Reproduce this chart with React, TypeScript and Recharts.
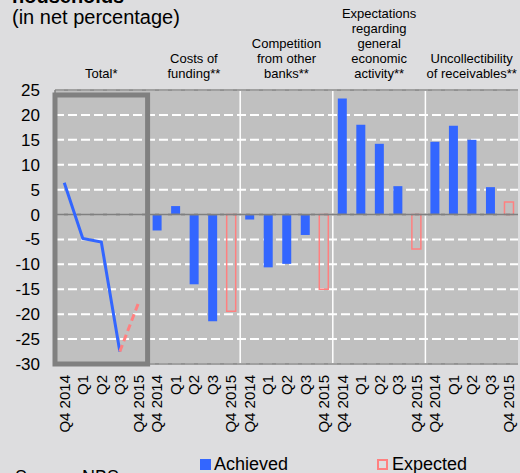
import {
  Bar,
  CartesianGrid,
  ComposedChart,
  Line,
  ReferenceArea,
  ReferenceLine,
  XAxis,
  YAxis,
} from "recharts";

const FONT = "Arial, 'Liberation Sans', Helvetica, sans-serif";
const BLUE = "#3366ff";
const PINK = "#ff8080";

const quarters = ["Q4 2014", "Q1", "Q2", "Q3", "Q4 2015"];

const groupHeaders = [
  ["Total*"],
  ["Costs of", "funding**"],
  ["Competition", "from other", "banks**"],
  ["Expectations", "regarding", "general", "economic", "activity**"],
  ["Uncollectibility", "of receivables**"],
];

// Total* is drawn as a line
const totalAchieved = [6.4, -4.8, -5.5, -27.5, null];
const totalExpected = [null, null, null, -27.5, -17.8];

// factor groups: Q4 2014 .. Q3 achieved, Q4 2015 expected
const costsAchieved = [-3.2, 1.7, -14.0, -21.4];
const competitionAchieved = [-1.0, -10.6, -9.9, -4.1];
const expectationsAchieved = [23.3, 18.0, 14.2, 5.7];
const uncollectibilityAchieved = [14.6, 17.8, 15.0, 5.5];
const factorsExpected = [-19.4, -15.0, -6.9, 2.5];

const yTicks = [25, 20, 15, 10, 5, 0, -5, -10, -15, -20, -25, -30];

const factorAchieved = [costsAchieved, competitionAchieved, expectationsAchieved, uncollectibilityAchieved];

const data = groupHeaders.flatMap((_, g) =>
  quarters.map((q, i) => ({
    id: `${g}-${i}`,
    label: q,
    totalAch: g === 0 ? totalAchieved[i] : null,
    totalExp: g === 0 ? totalExpected[i] : null,
    achieved: g > 0 && i < 4 ? factorAchieved[g - 1][i] : null,
    expected: g > 0 && i === 4 ? factorsExpected[g - 1] : null,
  }))
);

const headerTicks = groupHeaders.map((_, g) => `${g}-2`);
const groupEnds = [1, 2, 3].map((g) => `${g}-4`);

function QuarterTick({ x, y, payload }: any) {
  const label = String(payload.value).split("-")[1];
  return (
    <text
      x={x}
      y={y}
      transform={`rotate(-90, ${x}, ${y})`}
      textAnchor="end"
      dominantBaseline="central"
      fontSize={15}
      fontFamily={FONT}
      fill="#000"
    >
      {quarters[Number(label)]}
    </text>
  );
}

function HeaderTick({ x, y, payload }: any) {
  const g = Number(String(payload.value).split("-")[0]);
  const lines = groupHeaders[g];
  return (
    <g>
      {lines.map((line, i) => (
        <text
          key={line}
          x={x}
          y={y - 12 - 15 * (lines.length - 1 - i)}
          textAnchor="middle"
          fontSize={13}
          fontFamily={FONT}
          fill="#000"
        >
          {line}
        </text>
      ))}
    </g>
  );
}

export default function App() {
  return (
    <div
      style={{
        position: "absolute",
        left: 0,
        top: 0,
        width: 520,
        height: 473,
        overflow: "hidden",
        background: "#dddddf",
        fontFamily: FONT,
      }}
    >
      <div style={{ position: "absolute", left: 12, top: -14, fontSize: 20, lineHeight: "20px", fontWeight: "bold" }}>
        households
      </div>
      <div style={{ position: "absolute", left: 12, top: 7, fontSize: 20, lineHeight: "20px" }}>
        (in net percentage)
      </div>

      <ComposedChart
        width={520}
        height={473}
        data={data}
        margin={{ top: 0, right: 2, bottom: 0, left: 0 }}
        stackOffset="sign"
        style={{ position: "absolute", left: 0, top: 0 }}
      >
        <CartesianGrid vertical={false} stroke="#ffffff" strokeWidth={2} strokeDasharray="9 4" fill="#c0c0c0" />
        <XAxis
          xAxisId="top"
          orientation="top"
          dataKey="id"
          ticks={headerTicks}
          interval={0}
          height={90}
          axisLine={false}
          tickLine={false}
          tickSize={0}
          tickMargin={0}
          tick={<HeaderTick />}
        />
        <XAxis
          dataKey="id"
          interval={0}
          height={109}
          tickLine={false}
          tickSize={4}
          tickMargin={7}
          axisLine={{ stroke: "#808080", strokeWidth: 1.5 }}
          tick={<QuarterTick />}
        />
        <YAxis
          type="number"
          domain={[-30, 25]}
          ticks={yTicks}
          interval={0}
          width={55}
          tickLine={false}
          tickSize={6}
          tickMargin={9}
          axisLine={{ stroke: "#808080", strokeWidth: 1.5 }}
          tick={{ fontSize: 17, fill: "#000", fontFamily: FONT }}
        />
        {groupEnds.map((id) => (
          <ReferenceLine key={id} x={id} position="end" stroke="#ffffff" strokeWidth={1.5} />
        ))}
        <ReferenceLine y={25} stroke="#808080" strokeWidth={1.5} />
        <ReferenceLine y={0} stroke="#808080" strokeWidth={2} />
        <ReferenceArea x1="0-0" x2="0-4" y1={-30} y2={24} fill="none" stroke="#808080" strokeWidth={5} />
        <Bar dataKey="achieved" stackId="s" barSize={9} fill={BLUE} isAnimationActive={false} />
        <Bar
          dataKey="expected"
          stackId="s"
          barSize={9}
          fill="transparent"
          stroke={PINK}
          strokeWidth={1.5}
          isAnimationActive={false}
        />
        <Line
          dataKey="totalAch"
          type="linear"
          stroke={BLUE}
          strokeWidth={3}
          dot={false}
          isAnimationActive={false}
        />
        <Line
          dataKey="totalExp"
          type="linear"
          stroke={PINK}
          strokeWidth={3}
          strokeDasharray="7 4"
          dot={false}
          isAnimationActive={false}
        />
      </ComposedChart>

      <div style={{ position: "absolute", left: 200, top: 459, width: 11, height: 11, background: BLUE }} />
      <div style={{ position: "absolute", left: 214, top: 455, fontSize: 18, lineHeight: "18px" }}>Achieved</div>
      <div
        style={{
          position: "absolute",
          left: 377,
          top: 459,
          width: 11,
          height: 11,
          boxSizing: "border-box",
          border: `2px solid ${PINK}`,
        }}
      />
      <div style={{ position: "absolute", left: 392, top: 455, fontSize: 18, lineHeight: "18px" }}>Expected</div>
      <div style={{ position: "absolute", left: 15, top: 468, fontSize: 18, lineHeight: "18px" }}>Source: NBS</div>
    </div>
  );
}
